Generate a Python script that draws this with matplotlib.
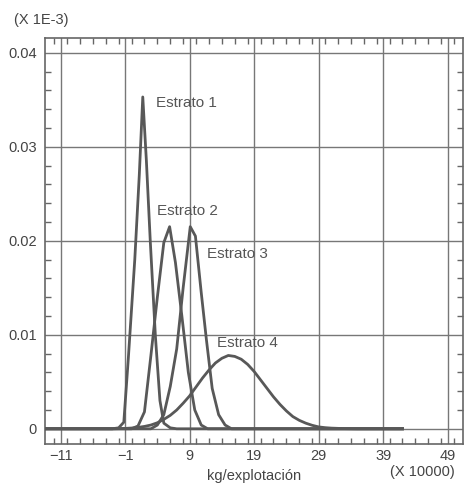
import numpy as np
import matplotlib.pyplot as plt
from matplotlib.ticker import MultipleLocator

# values (x in units of 10000 kg, y in units of 1E-3)
x_start, x_end = -13.3, 42.0

e1_x = [-3.0, -2.0, -1.2, -0.5, 0.5, 1.2, 1.74, 2.3, 2.9, 3.7, 4.4, 5.0, 6.0, 7.0]
e1_y = [0.0, 0.0001, 0.0007, 0.0075, 0.018, 0.027, 0.0353, 0.0285, 0.020, 0.0098, 0.003, 0.0006, 0.0001, 0.0]

e2_x = [0.0, 1.0, 2.0, 3.0, 4.0, 5.0, 5.9, 6.8, 7.8, 8.8, 9.8, 10.8, 11.8]
e2_y = [0.0, 0.0003, 0.0018, 0.0078, 0.0140, 0.0198, 0.0215, 0.0177, 0.0120, 0.0060, 0.0020, 0.0004, 0.0]

e3_x = [3.0, 4.0, 5.0, 6.0, 7.0, 8.0, 9.1, 9.9, 10.8, 11.6, 12.5, 13.5, 14.5, 15.5]
e3_y = [0.0, 0.0004, 0.0015, 0.0045, 0.0085, 0.0150, 0.0215, 0.0205, 0.0145, 0.0095, 0.0043, 0.0015, 0.0004, 0.0]

e4_x = [-3, -1, 0, 1, 2, 3, 4, 5, 6, 7, 8, 9, 10, 11, 12, 13, 14, 15, 16, 17,
        18, 19, 20, 21, 22, 23, 24, 25, 26, 27, 28, 29, 30, 31, 33, 35]
e4_y = [0.0, 0.00004, 0.00008, 0.00015, 0.00025, 0.0004, 0.00064, 0.001, 0.00143, 0.002,
        0.00272, 0.0035, 0.00445, 0.0054, 0.00625, 0.007, 0.0075, 0.0078, 0.0077, 0.0074,
        0.00685, 0.0061, 0.0052, 0.0043, 0.0034, 0.0026, 0.0019, 0.0013, 0.0009, 0.0006,
        0.00037, 0.0002, 0.00012, 0.00007, 0.00002, 0.0]

labels = ["Estrato 1", "Estrato 2", "Estrato 3", "Estrato 4"]
label_x = [3.75, 4.0, 11.7, 13.3]
label_y = [0.0347, 0.0232, 0.0186, 0.0091]

xticks = [-11, -1, 9, 19, 29, 39, 49]
yticks = [0, 0.01, 0.02, 0.03, 0.04]
ytick_labels = ["0", "0.01", "0.02", "0.03", "0.04"]

plt.rcParams['font.family'] = ['Liberation Sans', 'DejaVu Sans']

fig = plt.figure(figsize=(4.65, 4.84), dpi=100)
ax = fig.add_axes([0.097, 0.083, 0.899, 0.839])

grey = "#585858"
for xs, ys in [(e1_x, e1_y), (e2_x, e2_y), (e3_x, e3_y), (e4_x, e4_y)]:
    xs = [x_start] + list(xs) + [x_end]
    ys = [0.0] + list(ys) + [0.0]
    ax.plot(xs, ys, color=grey, lw=2.0, solid_joinstyle='round', zorder=3)

for t, lx, ly in zip(labels, label_x, label_y):
    ax.text(lx, ly, t, fontsize=11, color="#555555", va="center", ha="left", zorder=4)

ax.set_xlim(-13.4, 51.4)
ax.set_ylim(-0.0016, 0.0416)
ax.set_xticks(xticks)
ax.set_yticks(yticks)
ax.set_yticklabels(ytick_labels)
ax.xaxis.set_minor_locator(MultipleLocator(2))
ax.yaxis.set_minor_locator(MultipleLocator(0.002))
ax.tick_params(which='both', direction='in', top=True, right=True, colors="#666666",
               labelcolor="#444444", labelsize=10.5)
ax.tick_params(which='major', length=0, pad=6)
ax.tick_params(axis='x', which='major', pad=4)
ax.tick_params(which='minor', length=4, width=1)
ax.grid(True, which='major', color="#777777", lw=1.0, zorder=1)
for s in ax.spines.values():
    s.set_color("#666666")
    s.set_linewidth(1.2)

ax.set_xlabel("kg/explotación", fontsize=10.5, color="#444444", labelpad=4)
fig.text(0.03, 0.958, "(X 1E-3)", fontsize=10.5, color="#444444", va="center", ha="left")
fig.text(0.978, 0.025, "(X 10000)", fontsize=10.5, color="#444444", va="center", ha="right")

fig.savefig("out.png", dpi=100)
